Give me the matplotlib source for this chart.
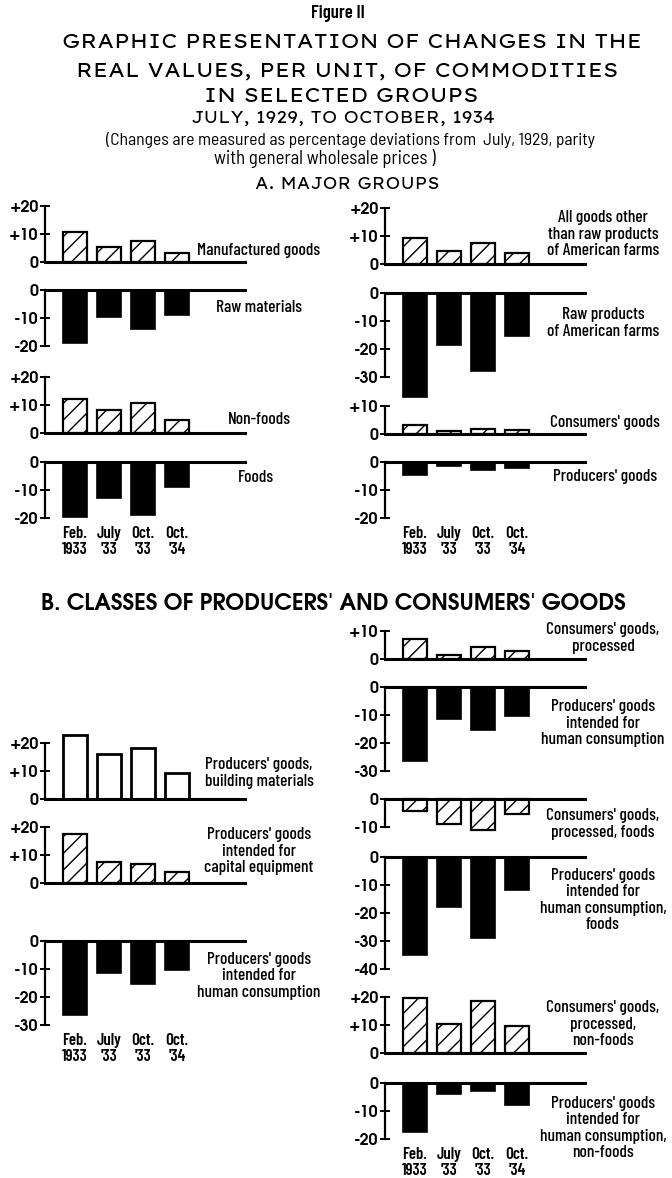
"""Figure II: real values per unit of commodity groups, July 1929 to October 1934."""

import matplotlib

matplotlib.use("Agg")
import matplotlib.pyplot as plt

W, H = 672, 1178
DPI = 100

periods = ["Feb.\n1933", "July\n'33", "Oct.\n'33", "Oct.\n'34"]

# percentage deviations from July 1929 parity with general wholesale prices
manufactured = [10.7, 5.2, 7.6, 3.3]
raw_materials = [-18.8, -9.8, -13.9, -8.9]
non_foods = [12.1, 8.2, 10.7, 4.5]
foods = [-19.6, -12.9, -18.8, -9.0]
other_than_farm = [9.3, 4.8, 7.4, 3.9]
farm_products = [-37.2, -18.5, -28.0, -15.5]
consumers = [3.2, 1.1, 1.7, 1.3]
producers = [-4.7, -1.5, -2.9, -2.1]
building = [23.0, 16.2, 18.1, 9.2]
capital = [17.6, 7.6, 6.7, 3.9]
human = [-26.5, -11.6, -15.5, -10.4]
consumers_processed = [7.3, 1.6, 4.3, 2.7]
processed_foods = [-4.4, -8.8, -11.2, -5.2]
human_foods = [-35.1, -18.0, -29.1, -11.8]
processed_nonfoods = [19.6, 10.4, 18.5, 9.6]
human_nonfoods = [-17.5, -4.0, -2.7, -7.9]

title_lines = ["GRAPHIC PRESENTATION OF CHANGES IN THE",
               "REAL VALUES, PER UNIT, OF COMMODITIES",
               "IN SELECTED GROUPS"]

NARROW = ["Barlow Condensed", "Liberation Sans Narrow", "DejaVu Sans"]
SEMI = ["Barlow Semi Condensed", "Liberation Sans Narrow", "DejaVu Sans"]
GEOMETRIC = ["TeX Gyre Adventor", "DejaVu Sans"]
WIDE = ["Lexend Exa", "DejaVu Sans"]
plt.rcParams["axes.unicode_minus"] = False
plt.rcParams["hatch.linewidth"] = 1.0

PX_PER_UNIT = 2.8
LEFT_SPINE, RIGHT_SPINE = 45, 385
AXES_W = 200

# (values, fill, y-range, spine x, zero y px, label, label centre px, show periods)
panels = [
    (manufactured, "hatch", (0, 20), LEFT_SPINE, 262, "Manufactured goods", (259, 250), False),
    (raw_materials, "black", (-20, 0), LEFT_SPINE, 290, "Raw materials", (259, 308), False),
    (non_foods, "hatch", (0, 20), LEFT_SPINE, 433, "Non-foods", (259, 420), False),
    (foods, "black", (-20, 0), LEFT_SPINE, 462, "Foods", (256, 477), True),
    (other_than_farm, "hatch", (0, 20), RIGHT_SPINE, 264,
     "All goods other\nthan raw products\nof American farms", (603, 234), False),
    (farm_products, "black", (-30, 0), RIGHT_SPINE, 293,
     "Raw products\nof American farms", (603, 323), False),
    (consumers, "hatch", (0, 10), RIGHT_SPINE, 434, "Consumers' goods", (605, 423), False),
    (producers, "black", (-20, 0), RIGHT_SPINE, 462, "Producers' goods", (605, 476), True),
    (building, "open", (0, 20), LEFT_SPINE, 799,
     "Producers' goods,\nbuilding materials", (259, 773), False),
    (capital, "hatch", (0, 20), LEFT_SPINE, 883,
     "Producers' goods\nintended for\ncapital equipment", (259, 851), False),
    (human, "black", (-30, 0), LEFT_SPINE, 941,
     "Producers' goods\nintended for\nhuman consumption", (259, 976), True),
    (consumers_processed, "hatch", (0, 10), RIGHT_SPINE, 659,
     "Consumers' goods,\nprocessed", (603, 638), False),
    (human, "black", (-30, 0), RIGHT_SPINE, 687,
     "Producers' goods\nintended for\nhuman consumption", (603, 723), False),
    (processed_foods, "hatch", (-10, 0), RIGHT_SPINE, 799,
     "Consumers' goods,\nprocessed, foods", (603, 824), False),
    (human_foods, "black", (-40, 0), RIGHT_SPINE, 857,
     "Producers' goods\nintended for\nhuman consumption,\nfoods", (603, 900), False),
    (processed_nonfoods, "hatch", (0, 20), RIGHT_SPINE, 1053,
     "Consumers' goods,\nprocessed,\nnon-foods", (603, 1024), False),
    (human_nonfoods, "black", (-20, 0), RIGHT_SPINE, 1083,
     "Producers' goods\nintended for\nhuman consumption,\nnon-foods", (603, 1128), True),
]


def tick_text(v):
    return "0" if v == 0 else f"{v:+d}"


def fig_xy(x, y):
    return x / W, 1 - y / H


fig = plt.figure(figsize=(W / DPI, H / DPI), dpi=DPI)
renderer = fig.canvas.get_renderer()


def fitted_text(cx, cy, s, width, **kw):
    # start at 12pt and rescale so the line spans the measured width
    t = fig.text(*fig_xy(cx, cy), s, ha="center", va="center", fontsize=12, **kw)
    t.set_fontsize(12 * width / t.get_window_extent(renderer).width)
    return t


for values, fill, (lo, hi), spine_x, zero_y, label, (lx, ly), show_periods in panels:
    top = zero_y - hi * PX_PER_UNIT
    bottom = zero_y - lo * PX_PER_UNIT
    ax = fig.add_axes([spine_x / W, 1 - bottom / H, AXES_W / W, (bottom - top) / H])
    ax.set_facecolor("none")
    ax.set_xlim(-0.88, 5.0)
    ax.set_ylim(lo, hi)

    x = range(len(values))
    if fill == "black":
        ax.bar(x, values, width=0.7, color="black", edgecolor="black", linewidth=1.2, clip_on=False)
    elif fill == "hatch":
        ax.bar(x, values, width=0.7, color="white", edgecolor="black", hatch="//",
               linewidth=1.6, clip_on=False)
    else:
        ax.bar(x, values, width=0.7, color="white", edgecolor="black", linewidth=2.0, clip_on=False)

    ax.axhline(0, color="black", linewidth=2.2, clip_on=False, zorder=3)
    for side in ("top", "right", "bottom"):
        ax.spines[side].set_visible(False)
    ax.spines["left"].set_linewidth(1.6)

    ticks = list(range(lo, hi + 1, 10))
    ax.set_yticks(ticks, [tick_text(t) for t in ticks], family=GEOMETRIC, fontsize=11.5,
                  fontweight="bold")
    ax.tick_params(axis="y", direction="inout", length=7, width=1.4, pad=1)

    if show_periods:
        ax.set_xticks(list(x), periods, family=NARROW, fontsize=12, fontweight="semibold",
                      linespacing=1.05)
        ax.tick_params(axis="x", length=0, pad=6)
    else:
        ax.set_xticks([])

    fig.text(*fig_xy(lx, ly), label, ha="center", va="center", family=NARROW,
             fontsize=12.5, fontweight="medium", linespacing=1.1)

# headings; the three title lines share the size that fits the first to its width
fitted_text(338, 14, "Figure II", 54, family=NARROW, fontweight="semibold")
first = fitted_text(352, 43, title_lines[0], 580, family=WIDE)
for (cx, cy), line in zip([(347, 71), (341, 96)], title_lines[1:]):
    fig.text(*fig_xy(cx, cy), line, ha="center", va="center", family=WIDE,
             fontsize=first.get_fontsize())
fitted_text(343, 119, "JULY, 1929, TO OCTOBER, 1934", 305, family=WIDE, fontweight="medium")
fitted_text(350, 140,
            "(Changes are measured as percentage deviations from  July, 1929, parity",
            490, family=SEMI)
fitted_text(325, 159, "with general wholesale prices )", 222, family=SEMI)
fitted_text(347, 185, "A. MAJOR GROUPS", 185, family=WIDE, fontweight="medium")
fitted_text(333, 603, "B. CLASSES OF PRODUCERS' AND CONSUMERS' GOODS", 585,
            family=GEOMETRIC, fontweight="bold")

fig.savefig("out.png", dpi=DPI)
